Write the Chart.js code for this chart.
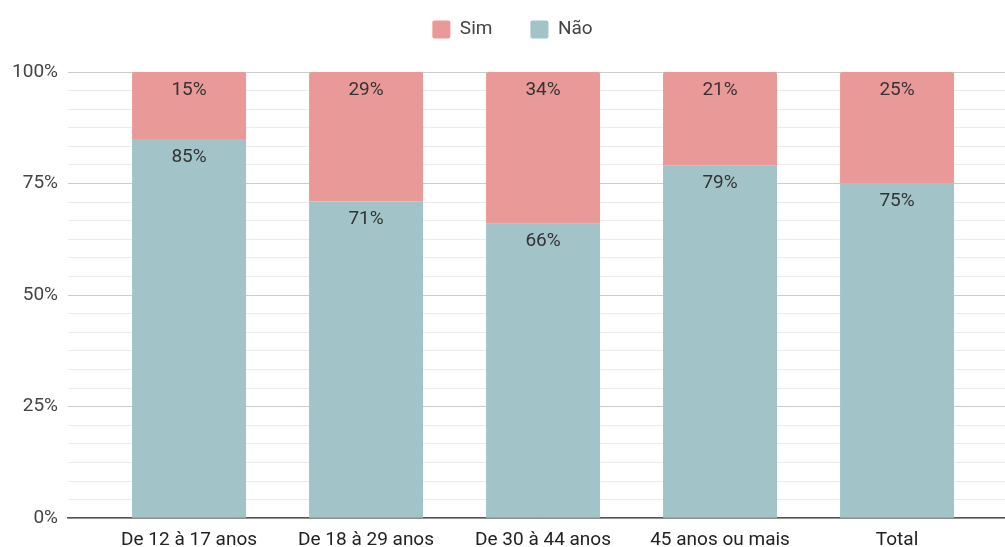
<!DOCTYPE html>
<html>
<head>
<meta charset="utf-8">
<script src="https://cdn.jsdelivr.net/npm/chart.js@4/dist/chart.umd.min.js"></script>
<style>
  html, body { margin: 0; padding: 0; background: #fff; }
  #wrap { width: 1005px; height: 547px; }
</style>
</head>
<body>
<div id="wrap"><canvas id="chart"></canvas></div>
<script>
// data
const categories = ["De 12 à 17 anos", "De 18 à 29 anos", "De 30 à 44 anos", "45 anos ou mais", "Total"]
const simValues = [15, 29, 34, 21, 25]
const naoValues = [85, 71, 66, 79, 75]
const yTickLabels = ["0%", "25%", "50%", "75%", "100%"]
const minorPerMajor = 6

const FONT = "Roboto, Arial, sans-serif"
const FONT_SIZE = 19

// major ticks every 25%, minor lines in between
const yTickValues = []
for (let i = 0; i < (yTickLabels.length - 1) * minorPerMajor + 1; i++) {
  yTickValues.push(i * 25 / minorPerMajor)
}
const isMajor = (v) => Math.abs(v / 25 - Math.round(v / 25)) < 1e-6

// values printed near the top of each segment
const barLabels = {
  id: "barLabels",
  afterDatasetsDraw(chart) {
    const ctx = chart.ctx
    ctx.save()
    ctx.font = FONT_SIZE + "px " + FONT
    ctx.fillStyle = "#333333"
    ctx.textAlign = "center"
    ctx.textBaseline = "middle"
    chart.data.datasets.forEach((ds, di) => {
      const meta = chart.getDatasetMeta(di)
      meta.data.forEach((bar, i) => {
        ctx.fillText(ds.data[i].y + "%", bar.x, bar.y + 18)
      })
    })
    ctx.restore()
  },
}

// extra room under the legend, and nudge it a bit right
const legendGap = {
  id: "legendGap",
  beforeInit(chart) {
    const fit = chart.legend.fit
    chart.legend.fit = function () {
      fit.bind(chart.legend)()
      this.height += 23
    }
  },
  afterLayout(chart) {
    chart.legend.left += 10
    chart.legend.right += 10
  },
}

new Chart(document.getElementById("chart"), {
  type: "bar",
  data: {
    datasets: [
      {
        label: "Não",
        data: naoValues.map((v, i) => ({ x: i, y: v })),
        backgroundColor: "#a2c4c9",
        borderWidth: 0,
        borderRadius: 2,
        barPercentage: 0.644,
        categoryPercentage: 1,
      },
      {
        label: "Sim",
        data: simValues.map((v, i) => ({ x: i, y: v })),
        backgroundColor: "#ea9999",
        borderWidth: 0,
        borderRadius: 2,
        barPercentage: 0.644,
        categoryPercentage: 1,
      },
    ],
  },
  options: {
    responsive: true,
    maintainAspectRatio: false,
    animation: false,
    layout: { padding: { top: -18, left: 0, right: 0, bottom: -16 } },
    plugins: {
      legend: {
        position: "top",
        reverse: true,
        labels: {
          boxWidth: 18,
          boxHeight: 18,
          padding: 38,
          useBorderRadius: true,
          borderRadius: 2,
          color: "#444444",
          font: { family: FONT, size: FONT_SIZE },
        },
      },
      tooltip: { enabled: false },
    },
    scales: {
      x: {
        type: "linear",
        stacked: true,
        offset: false,
        min: -0.684,
        max: 4.61,
        afterBuildTicks: (scale) => {
          scale.ticks = categories.map((c, i) => ({ value: i }))
        },
        ticks: {
          autoSkip: false,
          maxRotation: 0,
          padding: 11,
          color: "#222222",
          font: { family: FONT, size: FONT_SIZE },
          callback: (value) => categories[value],
        },
        grid: { display: false, drawTicks: false },
        border: { display: true, color: "#555555", width: 1.5 },
      },
      y: {
        stacked: true,
        min: 0,
        max: 100,
        afterBuildTicks: (scale) => {
          scale.ticks = yTickValues.map((v) => ({ value: v }))
        },
        afterFit: (scale) => {
          scale.width = 68
        },
        ticks: {
          autoSkip: false,
          padding: 10,
          color: "#444444",
          font: { family: FONT, size: FONT_SIZE },
          callback: (value) => (isMajor(value) ? yTickLabels[Math.round(value / 25)] : ""),
        },
        grid: {
          drawTicks: false,
          color: (ctx) => (isMajor(ctx.tick.value) ? "#cccccc" : "#ebebeb"),
          lineWidth: 1,
        },
        border: { display: false },
      },
    },
  },
  plugins: [barLabels, legendGap],
})
</script>
</body>
</html>
